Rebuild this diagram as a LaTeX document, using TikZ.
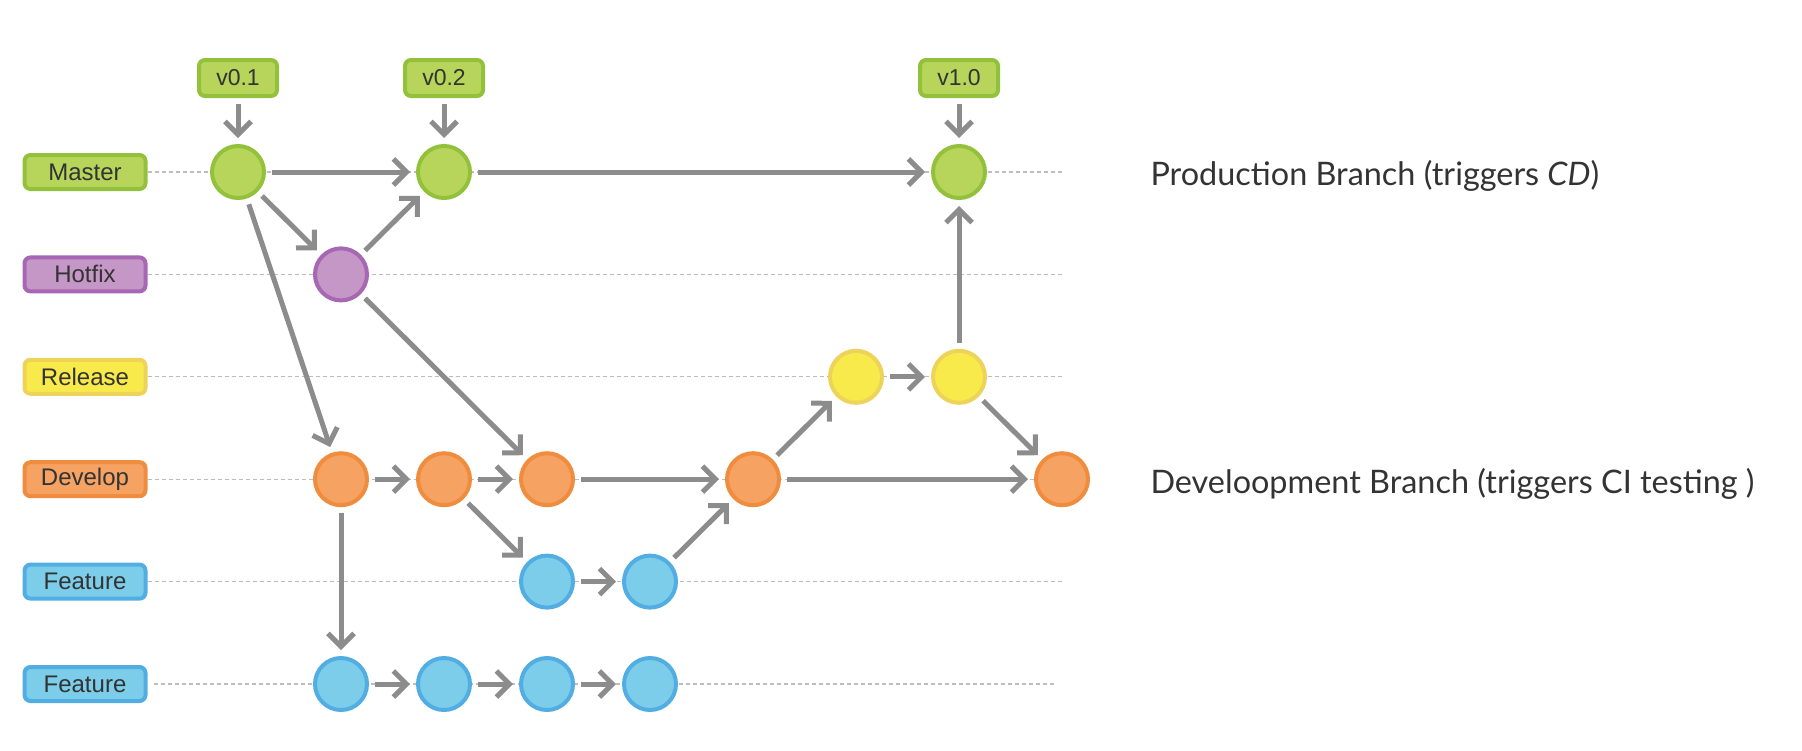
\documentclass[tikz,border=0pt]{standalone}
\usepackage{fontspec}
\setmainfont{Liberation Sans}
\newfontfamily\notefont{Lato}
\usetikzlibrary{arrows.meta,positioning,backgrounds}

\definecolor{mastfill}{HTML}{B8D55B}
\definecolor{mastline}{HTML}{94C13C}
\definecolor{hotfill}{HTML}{C597C6}
\definecolor{hotline}{HTML}{A767B3}
\definecolor{relfill}{HTML}{F8EA4A}
\definecolor{relline}{HTML}{EDD35A}
\definecolor{devfill}{HTML}{F5A262}
\definecolor{devline}{HTML}{F08C3E}
\definecolor{featfill}{HTML}{7BCDEA}
\definecolor{featline}{HTML}{52ADE2}
\definecolor{arrowgray}{HTML}{8C8C8C}
\definecolor{lanegray}{HTML}{BDBDBD}
\definecolor{textgray}{HTML}{333333}

\tikzset{
  commit/.style={circle, line width=2pt, minimum size=26pt, inner sep=0pt},
  branchlabel/.style={rectangle, rounded corners=3pt, line width=2pt,
    minimum width=60.5pt, minimum height=17pt, inner sep=0pt,
    text=textgray, font=\fontsize{12}{14}\selectfont},
  tagbox/.style={branchlabel, minimum width=39pt, minimum height=18pt,
    font=\fontsize{11.5}{13}\selectfont},
  master/.style={fill=mastfill, draw=mastline},
  hotfix/.style={fill=hotfill, draw=hotline},
  release/.style={fill=relfill, draw=relline},
  develop/.style={fill=devfill, draw=devline},
  feature/.style={fill=featfill, draw=featline},
  lane/.style={-, draw=lanegray, line width=0.6pt, dash pattern=on 2pt off 1.5pt},
  note/.style={anchor=base west, inner sep=0pt, text=textgray,
    font=\notefont\fontsize{16.2}{20}\selectfont}
}

\begin{document}
\begin{tikzpicture}[->,>={Straight Barb[length=6.5pt,width=13pt]},
    shorten >=3pt, shorten <=3pt, line width=2.5pt, draw=arrowgray,
    node distance=51.2pt and 51.5pt, on grid]
  \useasboundingbox (0,0) rectangle (901pt,-375pt);
  % branch names
  \node[branchlabel, master] (lmaster) at (42.5pt,-86pt) {Master};
  \node[branchlabel, hotfix] (lhotfix) [below=of lmaster] {Hotfix};
  \node[branchlabel, release] (lrelease) [below=of lhotfix] {Release};
  \node[branchlabel, develop] (ldevelop) [below=of lrelease] {Develop};
  \node[branchlabel, feature] (lfeatA) [below=of ldevelop] {Feature};
  \node[branchlabel, feature] (lfeatB) [below=of lfeatA] {Feature};
  % commits
  \node[commit, master] (m1) [right=76.5pt of lmaster] {};
  \node[commit, hotfix] (h1) [below right=of m1] {};
  \node[commit, master] (m2) [above right=of h1] {};
  \node[commit, develop] (d1) [below=102.4pt of h1] {};
  \node[commit, develop] (d2) [right=of d1] {};
  \node[commit, develop] (d3) [right=of d2] {};
  \node[commit, develop] (d4) [right=103pt of d3] {};
  \node[commit, develop] (d5) [right=154.5pt of d4] {};
  \node[commit, release] (r1) [above right=of d4] {};
  \node[commit, release] (r2) [right=of r1] {};
  \node[commit, master] (m3) [above=102.4pt of r2] {};
  \node[commit, feature] (fa1) [below=of d3] {};
  \node[commit, feature] (fa2) [right=of fa1] {};
  \node[commit, feature] (fb1) [below=102.4pt of d1] {};
  \node[commit, feature] (fb2) [right=of fb1] {};
  \node[commit, feature] (fb3) [right=of fb2] {};
  \node[commit, feature] (fb4) [right=of fb3] {};
  % tags
  \node[tagbox, master] (t01) [above=47pt of m1] {v0.1};
  \node[tagbox, master] (t02) [above=47pt of m2] {v0.2};
  \node[tagbox, master] (t10) [above=47pt of m3] {v1.0};
  % notes
  \node[note] (prodnote) at (574pt,-92.5pt) {Production Branch (triggers \textit{CD})};
  \node[note] (devnote) at (574pt,-246.5pt) {Develoopment Branch (triggers CI testing )};
  \begin{scope}[on background layer]
    \draw[lane] (lmaster.east) -- (lmaster.east -| d5)
      (lhotfix.east) -- (lhotfix.east -| d5)
      (lrelease.east) -- (lrelease.east -| d5)
      (ldevelop.east) -- (d5)
      (lfeatA.east) -- (lfeatA.east -| d5)
      (lfeatB.east) -- (lfeatB.east -| d5);
  \end{scope}
  \path (t01) edge (m1)
  (t02) edge (m2)
  (t10) edge (m3)
  (m1) edge (m2)
  edge (h1)
  edge (d1)
  (h1) edge (m2)
  edge (d3)
  (m2) edge (m3)
  (d1) edge (d2)
  edge (fb1)
  (d2) edge (d3)
  edge (fa1)
  (d3) edge (d4)
  (d4) edge (d5)
  edge (r1)
  (fa1) edge (fa2)
  (fa2) edge (d4)
  (r1) edge (r2)
  (r2) edge (m3)
  edge (d5)
  (fb1) edge (fb2)
  (fb2) edge (fb3)
  (fb3) edge (fb4)
  ;
\end{tikzpicture}
\end{document}
